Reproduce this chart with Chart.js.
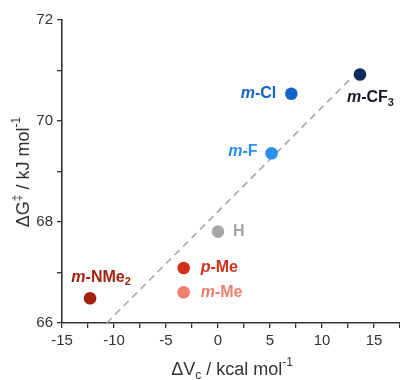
<!DOCTYPE html>
<html lang="en">
<head>
<meta charset="UTF-8">
<title>Activation energy vs dVc</title>
<script src="https://cdn.jsdelivr.net/npm/chart.js"></script>
<style>
  body { margin: 0; background: #fff; }
  #wrap { width: 400px; height: 380px; }
</style>
</head>
<body>
<div id="wrap"><canvas id="chart"></canvas></div>
<script>
// data
const names = ['m-CF3', 'm-Cl', 'm-F', 'H', 'p-Me', 'm-Me', 'm-NMe2'];
const dVc = [13.65, 7.05, 5.15, 0, -3.3, -3.3, -12.3];
const dG = [70.92, 70.54, 69.36, 67.81, 67.09, 66.61, 66.49];
const fitX = [-10.7, 12.8];
const fitY = [66.0, 70.85];
const xTicks = [-15, -10, -5, 0, 5, 10, 15];
const yTicks = [66, 68, 70, 72];

const colours = ['#0c2b5a', '#1565c8', '#2b8ff0', '#a6a6a6', '#d2301b', '#f07f70', '#a3200f'];
const labelColours = ['#151a28', '#1565c8', '#2b8ff0', '#a6a6a6', '#d2301b', '#f07f70', '#a3200f'];
// where each label sits relative to its point
const labelPlace = [
    { dx: -13, dy: 23, align: 'left' },
    { dx: -15, dy: 0, align: 'right' },
    { dx: -14, dy: -2, align: 'right' },
    { dx: 15, dy: 0, align: 'left' },
    { dx: 17, dy: 0, align: 'left' },
    { dx: 17, dy: 0, align: 'left' },
    { dx: 11, dy: -21, align: 'center' }
];

const FONT = '"Liberation Sans", Arial, sans-serif';

// split "m-CF3" into italic prefix, bold body, subscript
function parts(name) {
    let pre = '', body = name, sub = '';
    const h = name.indexOf('-');
    if (h > 0) { pre = name.slice(0, h); body = name.slice(h); }
    const m = body.match(/^(.*?)(\d+)$/);
    if (m) { body = m[1]; sub = m[2]; }
    return { pre, body, sub };
}

// draw a run of [text, font, dy] pieces
function runWidth(ctx, pieces) {
    let w = 0;
    pieces.forEach(p => { ctx.font = p[1]; w += ctx.measureText(p[0]).width; });
    return w;
}
function drawRun(ctx, pieces, x, y) {
    pieces.forEach(p => {
        ctx.font = p[1];
        ctx.fillText(p[0], x, y + p[2]);
        x += ctx.measureText(p[0]).width;
    });
}

const labelPlugin = {
    id: 'labels',
    afterDatasetsDraw(chart) {
        const ctx = chart.ctx;
        const xs = chart.scales.x, ys = chart.scales.y;
        ctx.save();
        ctx.textBaseline = 'middle';
        ctx.textAlign = 'left';
        names.forEach((n, i) => {
            const p = parts(n);
            const pieces = [];
            if (p.pre) pieces.push([p.pre, 'italic bold 16px ' + FONT, 0]);
            pieces.push([p.body, 'bold 16px ' + FONT, 0]);
            if (p.sub) pieces.push([p.sub, 'bold 11px ' + FONT, 5]);
            const px = xs.getPixelForValue(dVc[i]);
            const py = ys.getPixelForValue(dG[i]);
            const pl = labelPlace[i];
            const w = runWidth(ctx, pieces);
            let x = px + pl.dx;
            if (pl.align === 'right') x -= w;
            if (pl.align === 'center') x -= w / 2;
            ctx.fillStyle = labelColours[i];
            drawRun(ctx, pieces, x, py + pl.dy);
        });

        // axis titles
        ctx.fillStyle = '#333';
        const big = '18px ' + FONT, small = '12px ' + FONT;
        const yt = [['ΔG', big, 0], ['‡', small, -6], [' / kJ mol', big, 0], ['-1', small, -7]];
        const ywid = runWidth(ctx, yt);
        ctx.save();
        ctx.translate(24, 172);
        ctx.rotate(-Math.PI / 2);
        drawRun(ctx, yt, -ywid / 2, 0);
        ctx.restore();

        const xt = [['ΔV', big, 0], ['c', small, 6], [' / kcal mol', big, 0], ['-1', small, -7]];
        const xwid = runWidth(ctx, xt);
        drawRun(ctx, xt, 232 - xwid / 2, 370);
        ctx.restore();
    }
};

new Chart(document.getElementById('chart'), {
    data: {
        datasets: [{
            type: 'scatter',
            data: dVc.map((v, i) => ({ x: v, y: dG[i] })),
            backgroundColor: colours,
            borderWidth: 0,
            pointRadius: 6.3,
            pointHoverRadius: 6.3,
            order: 1
        }, {
            type: 'line',
            data: fitX.map((v, i) => ({ x: v, y: fitY[i] })),
            borderColor: '#a8a8a8',
            borderWidth: 1.6,
            borderDash: [7, 5],
            pointRadius: 0,
            fill: false,
            order: 2
        }]
    },
    options: {
        responsive: true,
        maintainAspectRatio: false,
        animation: false,
        layout: { autoPadding: false, padding: { top: 20, right: 0, left: 0, bottom: 0 } },
        plugins: { legend: { display: false }, tooltip: { enabled: false } },
        scales: {
            x: {
                type: 'linear',
                min: -15,
                max: 17.5,
                afterFit(s) { s.height = 57; s.paddingRight = 0; s.paddingLeft = 0; },
                ticks: {
                    stepSize: 2.5,
                    autoSkip: false,
                    maxRotation: 0,
                    padding: 4,
                    color: '#333',
                    font: { family: FONT, size: 15 },
                    callback: v => xTicks.includes(v) ? String(v) : ''
                },
                grid: { drawOnChartArea: false, tickLength: 5, color: '#333', lineWidth: 1.3 },
                border: { color: '#333', width: 1.6 }
            },
            y: {
                type: 'linear',
                min: 66,
                max: 72,
                afterFit(s) { s.width = 62; },
                ticks: {
                    stepSize: 1,
                    autoSkip: false,
                    padding: 4,
                    color: '#333',
                    font: { family: FONT, size: 15 },
                    callback: v => yTicks.includes(v) ? String(v) : ''
                },
                grid: { drawOnChartArea: false, tickLength: 5, color: '#333', lineWidth: 1.3 },
                border: { color: '#333', width: 1.6 }
            }
        }
    },
    plugins: [labelPlugin]
});
</script>
</body>
</html>
